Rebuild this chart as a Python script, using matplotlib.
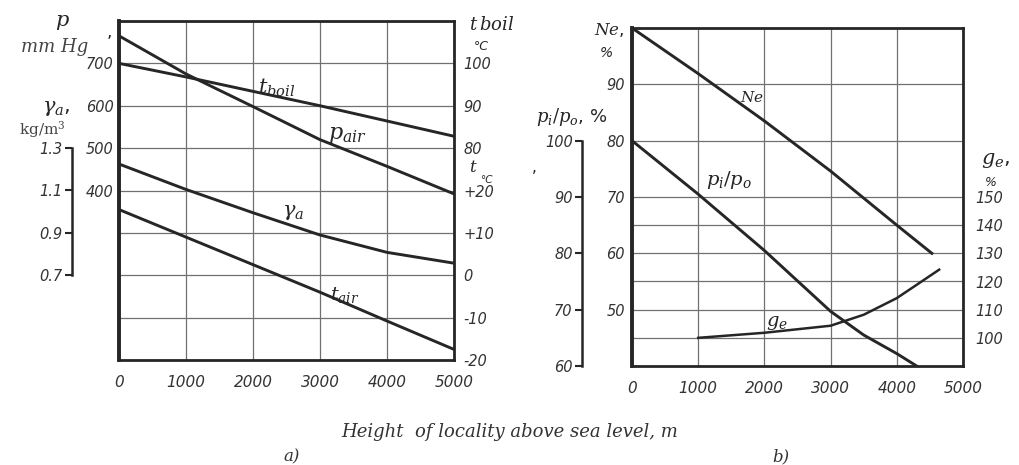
import matplotlib
matplotlib.use("Agg")
import matplotlib.pyplot as plt

# ---------------- data ----------------
heights = [0, 1000, 2000, 3000, 4000, 5000]
p_air = [765, 675, 598, 520, 457, 392]              # mm Hg
t_boil = [100, 96.8, 93.4, 90.0, 86.4, 82.8]        # deg C
gamma_a = [1.225, 1.105, 0.995, 0.89, 0.808, 0.757]  # kg/m3
t_air = [15.5, 9, 2.5, -4, -10.8, -17.5]            # deg C

ne_h = [0, 1000, 2000, 3000, 4000, 4530]
ne = [100, 91.9, 83.5, 74.6, 65, 60]                # %
pipo_h = [0, 1000, 2000, 3000, 3500, 4000, 4300]
pipo = [100, 90.5, 80.5, 69.7, 65.5, 62.2, 60]      # %
ge_h = [1000, 2000, 3000, 3500, 4000, 4330, 4640]
ge = [100, 101.8, 104.3, 108.2, 114.1, 119.3, 124.2]  # %

x_ticks = [0, 1000, 2000, 3000, 4000, 5000]

W, H = 1019, 465
INK = "#262626"
GRID = "#707070"
plt.rcParams["mathtext.fontset"] = "dejavuserif"

fig = plt.figure(figsize=(W / 100, H / 100), dpi=100)


def px(x, y):
    return x / W, 1 - y / H


def style_nums(ax, size=10.5):
    for lab in ax.get_xticklabels() + ax.get_yticklabels():
        lab.set_fontfamily("DejaVu Sans")
        lab.set_fontstyle("oblique")
        lab.set_fontsize(size)
        lab.set_color("#333333")


def hide_spines(ax):
    for s in ax.spines.values():
        s.set_visible(False)


def bracket(ax, where, lo, hi, ticks):
    ax.yaxis.set_ticks_position("left")
    hide_spines(ax)
    sp = ax.spines["left"]
    sp.set_visible(True)
    sp.set_position(("axes", where))
    sp.set_bounds(lo, hi)
    sp.set_linewidth(1.8)
    sp.set_color(INK)
    ax.set_yticks(ticks)
    ax.tick_params(direction="out", length=5, width=1.5, color=INK, pad=2)


# ---------------- panel a) ----------------
ax1 = fig.add_axes([119 / W, 1 - 360 / H, 335 / W, 339 / H])
ax1.set_xlim(0, 5000)
ax1.set_ylim(0, 800)
ax1.set_xticks(x_ticks)
ax1.set_yticks(range(0, 801, 100))
ax1.set_yticklabels(["", "", "", "", "400", "500", "600", "700", ""])
ax1.grid(True, color=GRID, lw=0.9)
ax1.tick_params(axis="y", length=0, pad=4)
ax1.tick_params(axis="x", length=0, pad=11)
for s in ax1.spines.values():
    s.set_linewidth(2.0)
    s.set_color(INK)
ax1.spines["left"].set_linewidth(2.8)
ax1.plot(heights, p_air, color=INK, lw=2.1)
style_nums(ax1)
for lab in ax1.get_xticklabels():
    lab.set_fontsize(11)

# t boil scale (right)
ax1b = ax1.twinx()
ax1b.set_ylim(30, 110)
ax1b.set_yticks([80, 90, 100])
ax1b.tick_params(length=0, pad=7)
hide_spines(ax1b)
ax1b.plot(heights, t_boil, color=INK, lw=2.1)
style_nums(ax1b)

# t air scale (right)
ax1c = ax1.twinx()
ax1c.set_ylim(-20, 60)
ax1c.set_yticks([-20, -10, 0, 10, 20])
ax1c.set_yticklabels(["-20", "-10", "0", "+10", "+20"])
ax1c.tick_params(length=0, pad=7)
hide_spines(ax1c)
ax1c.plot(heights, t_air, color=INK, lw=2.1)
style_nums(ax1c)

# gamma scale (bracket on far left)
ax1g = ax1.twinx()
ax1g.set_ylim(0.3, 1.9)
bracket(ax1g, -0.14, 0.7, 1.3, [0.7, 0.9, 1.1, 1.3])
ax1g.set_yticklabels(["0.7", "0.9", "1.1", "1.3"])
ax1g.plot(heights, gamma_a, color=INK, lw=2.1)
style_nums(ax1g)

# curve names
fig.text(*px(258, 88), r"$t_{boil}$", fontsize=15, color=INK, va="center")
fig.text(*px(328, 136), r"$p_{air}$", fontsize=16, color=INK, va="center")
fig.text(*px(282, 212), r"$\gamma_a$", fontsize=15, color=INK, va="center")
fig.text(*px(330, 295), r"$t_{air}$", fontsize=14, color=INK, va="center")

# axis names
fig.text(*px(62, 22), r"$p$", fontsize=15, color=INK, ha="center", va="center")
fig.text(*px(55, 47), "mm Hg", family="DejaVu Serif", style="italic",
         fontsize=13, color="#444444", ha="center", va="center")
fig.text(*px(109, 32), ",", fontsize=12, color=INK, ha="center", va="center")
fig.text(*px(56, 108), r"$\gamma_a$,", fontsize=15, color=INK, ha="center", va="center")
fig.text(*px(42, 130), r"kg/m$^3$", family="DejaVu Serif", fontsize=11,
         color="#444444", ha="center", va="center")
fig.text(*px(492, 25), r"$t\,boil$", fontsize=13, color=INK, ha="center", va="center")
fig.text(*px(481, 46), "°C", family="DejaVu Sans", style="oblique", fontsize=9,
         color=INK, ha="center", va="center")
fig.text(*px(473, 167), r"$t$", fontsize=12, color=INK, ha="center", va="center")
fig.text(*px(486, 180), "°C", family="DejaVu Sans", style="oblique", fontsize=7.5,
         color=INK, ha="center", va="center")

# ---------------- panel b) ----------------
ax2 = fig.add_axes([632 / W, 1 - 366 / H, 331 / W, 338 / H])
ax2.set_xlim(0, 5000)
ax2.set_ylim(40, 100)
ax2.set_xticks(x_ticks)
ax2.set_yticks([45, 50, 55, 60, 65, 70, 80, 90])
ax2.set_yticklabels(["", "50", "", "60", "", "70", "80", "90"])
ax2.grid(True, color=GRID, lw=0.9)
ax2.tick_params(axis="y", length=0, pad=5)
ax2.tick_params(axis="x", length=0, pad=11)
for s in ax2.spines.values():
    s.set_linewidth(2.0)
    s.set_color(INK)
ax2.spines["left"].set_linewidth(2.8)
ax2.plot(ne_h, ne, color=INK, lw=2.1)
style_nums(ax2)
for lab in ax2.get_xticklabels():
    lab.set_fontsize(11)

# p_i/p_o scale (bracket)
ax2p = ax2.twinx()
ax2p.set_ylim(60, 120)
bracket(ax2p, -0.1500, 60, 100, [60, 70, 80, 90, 100])
ax2p.plot(pipo_h, pipo, color=INK, lw=2.1)
style_nums(ax2p)

# ge scale (right)
ax2g = ax2.twinx()
ax2g.set_ylim(90, 210)
ax2g.set_yticks([100, 110, 120, 130, 140, 150])
ax2g.tick_params(length=0, pad=9)
hide_spines(ax2g)
ax2g.plot(ge_h, ge, color=INK, lw=1.8)
style_nums(ax2g)

fig.text(*px(740, 98), r"$Ne$", fontsize=11, color=INK, va="center")
fig.text(*px(706, 180), r"$p_i/p_o$", fontsize=14, color=INK, va="center")
fig.text(*px(766, 322), r"$g_e$", fontsize=14, color=INK, va="center")

fig.text(*px(609, 30), r"$Ne$,", fontsize=12, color=INK, ha="center", va="center")
fig.text(*px(606, 53), "%", family="DejaVu Sans", style="oblique", fontsize=10,
         color=INK, ha="center", va="center")
fig.text(*px(572, 117), r"$p_i/p_o$, %", fontsize=13, color=INK, ha="center", va="center")
fig.text(*px(534, 167), ",", fontsize=11, color=INK, ha="center", va="center")
fig.text(*px(996, 160), r"$g_e$,", fontsize=15, color=INK, ha="center", va="center")
fig.text(*px(991, 182), "%", family="DejaVu Sans", style="oblique", fontsize=9,
         color=INK, ha="center", va="center")

# ---------------- captions ----------------
fig.text(*px(510, 432), "Height  of locality above sea level, m",
         family="DejaVu Serif", style="italic", fontsize=13,
         color="#333333", ha="center", va="center")
fig.text(*px(292, 457), "a)", family="DejaVu Serif", style="italic",
         fontsize=12, color="#333333", ha="center", va="center")
fig.text(*px(781, 457), "b)", family="DejaVu Serif", style="italic",
         fontsize=12, color="#333333", ha="center", va="center")

fig.savefig("out.png", dpi=100, facecolor="white")
